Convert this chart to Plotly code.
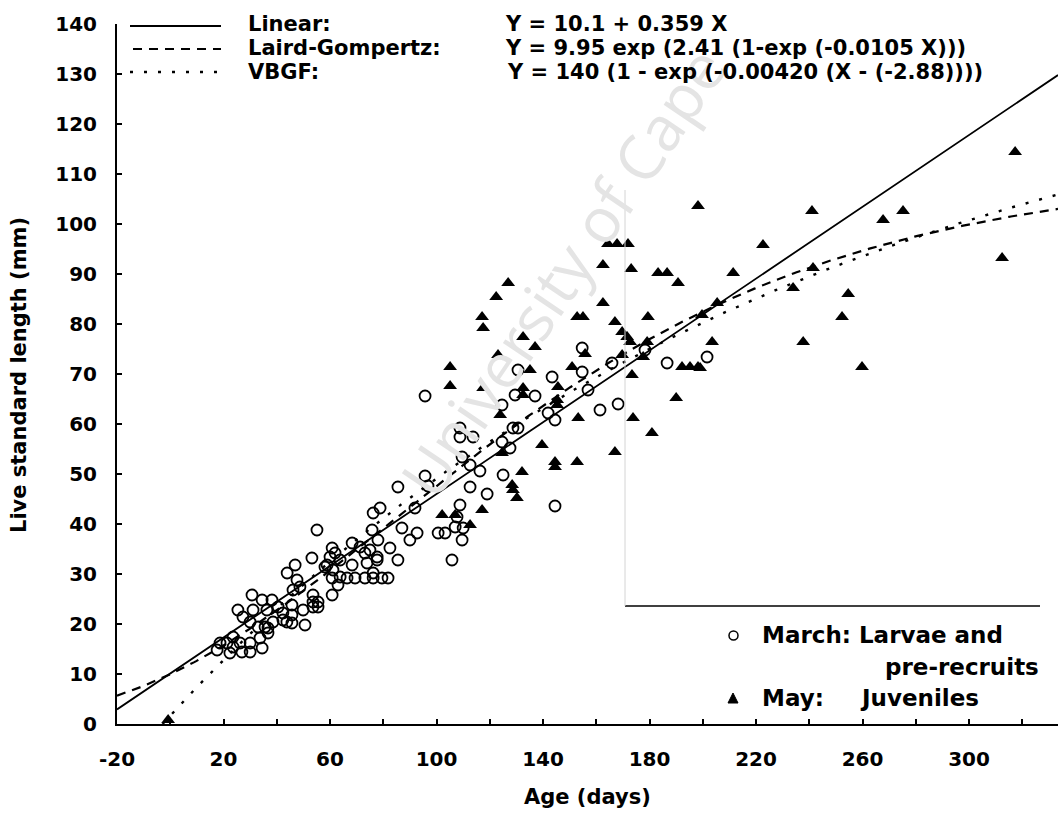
import numpy as np
import plotly.graph_objects as go

# ---------------- data ----------------
march_x = [201.6, 186.6, 168.2, 161.4, 178.3, 165.9, 154.7, 154.7, 143.4, 156.9, 141.9, 144.5, 144.5,
           95.7, 130.6, 129.5, 137.0, 124.6, 108.8, 108.8, 113.7, 109.6, 112.6, 116.3, 128.7, 130.6,
           124.6, 127.6, 95.7, 125.0, 112.6, 119.0, 96.8, 85.5, 76.2, 78.8, 91.9, 108.8, 107.7, 107.0,
           110.0, 100.6, 103.2, 109.6, 105.8, 87.0, 92.7, 90.0, 82.5, 85.5, 77.7, 75.8, 78.0, 55.1,
           60.8, 61.9, 68.3, 73.1, 73.9, 53.2, 46.9, 43.9, 58.1, 68.3, 60.8, 63.0, 66.4, 69.4, 73.1,
           76.2, 79.5, 81.8, 60.8, 47.6, 48.7, 46.1, 53.6, 53.6, 53.6, 55.5, 55.5, 45.7, 49.9, 45.7,
           45.7, 50.6, 30.7, 34.5, 38.2, 31.1, 36.3, 40.5, 25.4, 27.3, 42.3, 42.3, 38.6, 35.6, 33.0,
           30.0, 23.6, 26.2, 30.0, 33.7, 36.7, 21.3, 23.6, 22.4, 34.5, 26.9, 30.0, 18.7, 17.6, 60.0,
           63.8, 58.9, 61.1, 63.8, 71.3, 75.0, 77.7, 76.2, 43.8, 36.7]
march_y = [73.4, 72.2, 64.0, 62.8, 74.8, 72.2, 75.2, 70.4, 69.4, 66.8, 62.2, 60.8, 43.6,
           65.6, 70.8, 65.8, 65.6, 63.8, 59.2, 57.4, 57.4, 53.4, 51.8, 50.6, 59.2, 59.2,
           56.4, 55.2, 49.6, 49.8, 47.4, 46.0, 47.6, 47.4, 42.2, 43.2, 43.2, 43.8, 41.4, 39.4,
           39.2, 38.2, 38.2, 36.8, 32.8, 39.2, 38.2, 36.8, 35.2, 32.8, 32.8, 38.8, 36.8, 38.8,
           35.2, 34.2, 36.2, 34.2, 32.2, 33.2, 31.8, 30.2, 31.4, 31.8, 29.2, 27.8, 29.2, 29.2, 29.2,
           29.2, 29.2, 29.2, 25.8, 28.8, 27.4, 26.8, 25.8, 24.4, 23.4, 24.4, 23.4, 23.8, 22.8, 21.8,
           20.2, 19.8, 25.8, 24.8, 24.8, 22.8, 22.8, 23.4, 22.8, 21.4, 22.2, 20.8, 20.4, 19.4, 19.4,
           20.4, 17.4, 16.2, 16.2, 17.2, 18.2, 16.2, 15.4, 14.2, 15.2, 14.4, 14.4, 16.2, 14.8, 33.4,
           32.8, 31.8, 30.8, 29.4, 35.4, 34.8, 33.4, 30.2, 20.4, 19.2]

may_x = [317.3, 312.4, 275.2, 267.7, 259.8, 254.6, 252.3, 241.4, 241.0, 237.7, 233.9, 222.6, 211.4,
         205.4, 199.7, 203.5, 199.0, 198.2, 164.4, 167.8, 171.9, 162.5, 173.1, 183.2, 186.6, 190.7,
         126.9, 122.4, 117.1, 117.5, 162.5, 152.8, 155.0, 179.4, 167.0, 169.7, 171.6, 172.7, 132.5,
         137.0, 123.1, 105.1, 105.1, 117.5, 135.1, 150.9, 169.7, 173.4, 179.1, 177.6, 192.2, 195.2,
         198.2, 190.0, 173.8, 180.9, 153.2, 132.5, 132.5, 145.6, 145.3, 145.3, 123.9, 124.6, 139.6,
         144.5, 144.5, 152.8, 167.0, 132.1, 128.4, 128.7, 130.2, 102.1, 107.0, 117.1, 112.6, 155.8,
         -0.8]
may_y = [114.4, 93.2, 102.6, 100.8, 71.4, 86.0, 81.4, 91.2, 102.6, 76.4, 87.2, 95.8, 90.2,
         84.2, 81.8, 76.4, 71.2, 103.6, 96.0, 96.0, 96.0, 91.8, 91.0, 90.2, 90.2, 88.2,
         88.2, 85.4, 81.4, 79.2, 84.2, 81.4, 81.4, 81.4, 80.4, 78.4, 77.4, 76.4, 77.4,
         75.4, 73.8, 71.4, 67.6, 67.2, 70.8, 71.4, 73.8, 69.8, 76.4, 73.4, 71.4, 71.4,
         71.4, 65.2, 61.2, 58.2, 61.2, 67.2, 65.8, 67.4, 64.8, 63.8, 61.8, 54.2, 55.8,
         52.4, 51.4, 52.4, 54.4, 50.4, 47.8, 46.8, 45.2, 41.8, 41.8, 42.8, 39.8, 74.0,
         0.8]

# fitted models (parameters as printed on the chart)
lin_a, lin_b = 10.1, 0.359
lg_l0, lg_k, lg_a = 9.95, 2.41, 0.0105
vb_linf, vb_k, vb_t0 = 140.0, 0.00420, -2.88

x_lo, x_hi = -20, 333.4
y_lo, y_hi = 0, 140
x_tickvals = list(range(-20, 340, 20))
x_ticklabels = ["-20", "", "20", "", "60", "", "100", "", "140", "", "180", "", "220", "", "260", "", "300", ""]
y_tickvals = list(range(0, 150, 10))

eq_linear = "Y = 10.1 + 0.359 X"
eq_gomp = "Y = 9.95 exp (2.41 (1-exp (-0.0105 X)))"
eq_vbgf = "Y = 140 (1 - exp (-0.00420 (X - (-2.88))))"
watermark = "University of Cape"

# ---------------- curves ----------------
xs = np.linspace(x_lo, x_hi, 500)
xs_vb = np.linspace(vb_t0, x_hi, 500)
y_lin = lin_a + lin_b * xs
y_gomp = lg_l0 * np.exp(lg_k * (1 - np.exp(-lg_a * xs)))
y_vb = vb_linf * (1 - np.exp(-vb_k * (xs_vb - vb_t0)))

# ---------------- layout helpers ----------------
W, H = 1058, 817
PL, PT, PW, PH = 117, 24, 941, 700


def fx(px):
    return (px - PL) / PW


def fy(py):
    return (PT + PH - py) / PH


FONT = "DejaVu Sans"
TXT = dict(family=FONT, size=21, color="black", weight="bold")

fig = go.Figure()
fig.add_trace(go.Scatter(x=march_x, y=march_y, mode="markers", cliponaxis=False,
                         marker=dict(symbol="circle-open", size=11, color="black", line=dict(width=1.8))))
fig.add_trace(go.Scatter(x=may_x, y=may_y, mode="markers", cliponaxis=False,
                         marker=dict(symbol="triangle-up", size=12, color="black", line=dict(width=0))))
fig.add_trace(go.Scatter(x=xs, y=y_lin, mode="lines", line=dict(color="black", width=1.8)))
fig.add_trace(go.Scatter(x=xs, y=y_gomp, mode="lines", line=dict(color="black", width=2.2, dash="9px,7px")))
fig.add_trace(go.Scatter(x=xs_vb, y=y_vb, mode="lines", line=dict(color="black", width=2.4, dash="3px,11px")))

shapes = []
# legend line samples
shapes.append(dict(type="line", xref="paper", yref="paper", x0=fx(130), x1=fx(221), y0=fy(26), y1=fy(26),
                   line=dict(color="black", width=1.8)))
shapes.append(dict(type="line", xref="paper", yref="paper", x0=fx(133), x1=fx(221), y0=fy(49), y1=fy(49),
                   line=dict(color="black", width=2.2, dash="9px,7px")))
shapes.append(dict(type="line", xref="paper", yref="paper", x0=fx(130), x1=fx(221), y0=fy(72), y1=fy(72),
                   line=dict(color="black", width=2.4, dash="3px,11px")))
# scan frame remnants around the lower legend
shapes.append(dict(type="line", xref="paper", yref="paper", x0=fx(625), x1=fx(1040), y0=fy(606), y1=fy(606),
                   line=dict(color="black", width=1.5)))
shapes.append(dict(type="line", xref="paper", yref="paper", x0=fx(625), x1=fx(625), y0=fy(190), y1=fy(606),
                   line=dict(color="#d4d4d4", width=1)))
# lower legend symbols
shapes.append(dict(type="circle", xref="paper", yref="paper", x0=fx(729), x1=fx(738), y0=fy(631), y1=fy(640),
                   line=dict(color="black", width=1.5)))
shapes.append(dict(type="path", xref="paper", yref="paper",
                   path=f"M {fx(728)},{fy(703)} L {fx(738)},{fy(703)} L {fx(733)},{fy(693)} Z",
                   fillcolor="black", line=dict(color="black", width=1)))

ann = []
ann.append(dict(text=watermark, xref="paper", yref="paper", x=fx(562), y=fy(272),
                xanchor="center", yanchor="middle",
                showarrow=False, textangle=-56, font=dict(family="Open Sans", size=62, color="#e4e4e4")))


def label(text, px, py, anchor="left", size=21):
    ann.append(dict(text=text, xref="paper", yref="paper", x=fx(px), y=fy(py), xanchor=anchor,
                    yanchor="middle", showarrow=False, font=dict(TXT, size=size)))


label("Linear:", 246, 24)
label(eq_linear, 503, 24)
label("Laird-Gompertz:", 246, 48)
label(eq_gomp, 503, 48)
label("VBGF:", 246, 72)
label(eq_vbgf, 505, 72)
label("March: Larvae and", 760, 635, size=23)
label("pre-recruits", 1041, 667, anchor="right", size=23)
label("May:", 760, 698, size=23)
label("Juveniles", 858, 698, size=23)
label("Age (days)", 587, 797, anchor="center")
ann.append(dict(text="Live standard length (mm)", xref="paper", yref="paper", x=fx(19), y=fy(375),
                xanchor="center", yanchor="middle",
                textangle=-90, showarrow=False, font=TXT))

fig.update_layout(
    width=W, height=H,
    margin=dict(l=PL, r=W - PL - PW, t=PT, b=H - PT - PH, pad=0),
    plot_bgcolor="white", paper_bgcolor="white",
    showlegend=False,
    shapes=shapes, annotations=ann,
    xaxis=dict(range=[x_lo, x_hi], tickvals=x_tickvals, ticktext=x_ticklabels, ticks="inside",
               ticklen=5, tickwidth=1.5, tickcolor="black", showline=True, linewidth=2,
               linecolor="black", showgrid=False, zeroline=False, tickfont=dict(TXT, size=20),
               ticklabelstandoff=16),
    yaxis=dict(range=[y_lo, y_hi], tickvals=y_tickvals, ticks="inside", ticklen=5, tickwidth=1.5,
               tickcolor="black", showline=True, linewidth=2, linecolor="black", showgrid=False,
               zeroline=False, tickfont=dict(TXT, size=20), ticklabelstandoff=14),
)

fig.write_html("out.html")
